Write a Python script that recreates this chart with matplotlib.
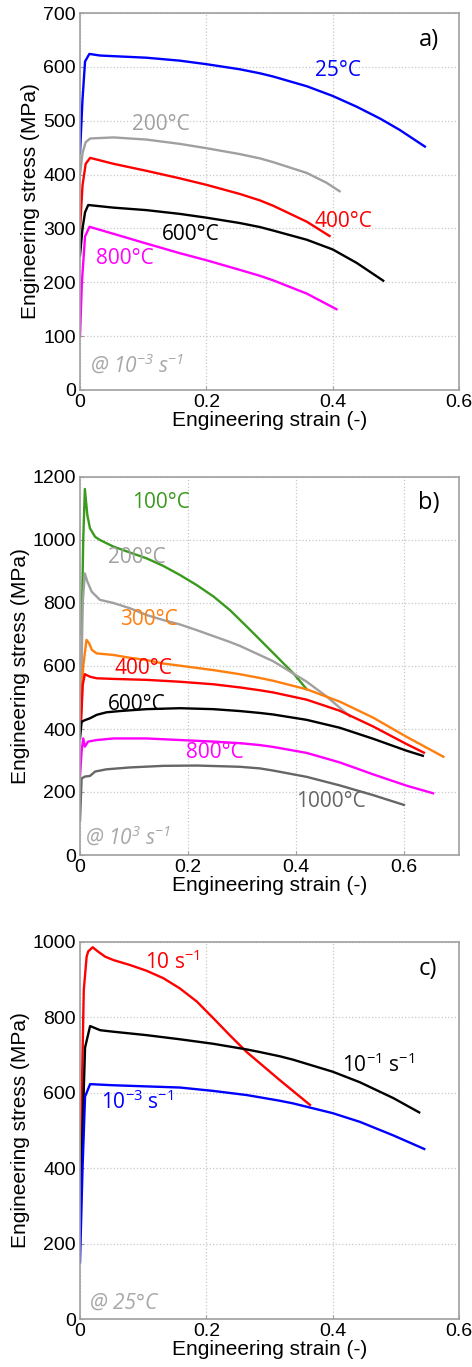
import matplotlib.pyplot as plt

plt.rcParams['font.family'] = ['Liberation Sans', 'DejaVu Sans']
plt.rcParams['font.size'] = 14
plt.rcParams['lines.solid_joinstyle'] = 'round'

# (a) tensile curves at 10^-3 s^-1, strain (-) / stress (MPa)
a_25_x = [0.0, 0.004, 0.008, 0.0148, 0.032, 0.105, 0.158, 0.2, 0.253, 0.285, 0.306, 0.359, 0.4, 0.438, 0.475, 0.506, 0.546]
a_25_y = [440, 540, 610, 624, 621, 617, 611.5, 605, 595.5, 588, 582, 564, 546, 526, 504, 483, 452]
a_200_x = [0.0, 0.004, 0.009, 0.016, 0.053, 0.105, 0.158, 0.2, 0.253, 0.285, 0.306, 0.359, 0.39, 0.411]
a_200_y = [400, 440, 460, 467, 469, 465, 457, 449, 438, 430, 423, 403, 385, 369]
a_400_x = [0.0, 0.004, 0.009, 0.016, 0.053, 0.105, 0.158, 0.2, 0.253, 0.285, 0.306, 0.359, 0.395]
a_400_y = [300, 380, 420, 431, 420, 407, 393, 381, 364, 352, 342, 312.5, 286]
a_600_x = [0.0, 0.004, 0.008, 0.013, 0.053, 0.105, 0.158, 0.2, 0.253, 0.285, 0.306, 0.359, 0.4, 0.438, 0.48]
a_600_y = [250, 300, 330, 343.5, 338.6, 334, 327, 320, 310, 302.5, 296, 279, 261, 236, 203]
a_800_x = [0.0, 0.003, 0.008, 0.015, 0.053, 0.105, 0.158, 0.2, 0.253, 0.285, 0.306, 0.359, 0.406]
a_800_y = [100, 200, 285, 303, 290, 272, 254, 241, 223, 212, 203.5, 179, 150]

# (b) tensile curves at 10^3 s^-1
b_100_x = [0.003, 0.006, 0.009, 0.0136, 0.0185, 0.028, 0.037, 0.062, 0.093, 0.123, 0.154, 0.185, 0.216, 0.247, 0.278, 0.309, 0.333, 0.358, 0.395, 0.42]
b_100_y = [700, 1000, 1162, 1079, 1037, 1010, 1000, 979, 960, 942, 918, 889, 857, 821, 777, 725, 684, 641, 577, 526]
b_200_x = [0.002, 0.005, 0.009, 0.0136, 0.0216, 0.037, 0.062, 0.093, 0.123, 0.154, 0.185, 0.216, 0.247, 0.278, 0.296, 0.358, 0.42, 0.457, 0.5]
b_200_y = [500, 800, 894, 868, 836, 810, 800, 783, 762, 746, 732, 714, 695, 676, 664, 615, 550, 503, 440]
b_300_x = [0.002, 0.006, 0.012, 0.017, 0.022, 0.031, 0.062, 0.093, 0.123, 0.154, 0.185, 0.247, 0.296, 0.333, 0.358, 0.42, 0.481, 0.543, 0.605, 0.673]
b_300_y = [450, 600, 683, 672, 651, 640, 635, 626, 619, 608, 601, 587, 574, 562, 553, 526, 487, 436, 375, 312]
b_400_x = [0.002, 0.005, 0.009, 0.0185, 0.031, 0.062, 0.123, 0.185, 0.247, 0.296, 0.333, 0.358, 0.42, 0.481, 0.543, 0.605, 0.637]
b_400_y = [420, 540, 574, 566, 561, 559, 556, 550, 542, 532, 523, 516, 493, 458, 408, 352, 325]
b_600_x = [0.0, 0.003, 0.009, 0.0185, 0.031, 0.049, 0.074, 0.123, 0.185, 0.247, 0.296, 0.333, 0.358, 0.42, 0.481, 0.543, 0.605, 0.635]
b_600_y = [370, 423, 428, 434, 445, 453, 457, 463, 466, 463, 457, 451, 446, 429, 404, 369, 331, 315]
b_800_x = [0.0, 0.003, 0.006, 0.009, 0.015, 0.031, 0.062, 0.123, 0.185, 0.247, 0.296, 0.333, 0.358, 0.42, 0.481, 0.543, 0.605, 0.654]
b_800_y = [250, 330, 370, 344, 360, 365, 370, 370, 365, 360, 355, 349, 343, 324, 294, 256, 220, 196]
b_1000_x = [0.0, 0.003, 0.009, 0.0185, 0.028, 0.049, 0.093, 0.154, 0.216, 0.278, 0.296, 0.333, 0.358, 0.42, 0.481, 0.543, 0.6]
b_1000_y = [110, 243, 249, 251, 265, 272, 278, 283, 284, 281, 280, 275, 268, 248, 221, 190, 159]

# (c) 25°C at three strain rates
c_10_x = [0.0, 0.004, 0.006, 0.0105, 0.013, 0.02, 0.029, 0.04, 0.053, 0.079, 0.105, 0.132, 0.158, 0.185, 0.211, 0.237, 0.264, 0.29, 0.316, 0.364]
c_10_y = [350, 700, 873, 961, 975, 986, 974, 961, 952, 939, 924, 904, 877, 842, 798, 753, 708, 671, 634, 568]
c_01_x = [0.0, 0.004, 0.008, 0.016, 0.032, 0.053, 0.105, 0.158, 0.211, 0.264, 0.285, 0.316, 0.337, 0.4, 0.443, 0.496, 0.537]
c_01_y = [250, 500, 720, 777, 766, 762, 753, 742, 730, 715, 708, 697, 688, 656, 628, 586, 548]
c_0001_x = [0.0, 0.004, 0.008, 0.016, 0.053, 0.105, 0.158, 0.211, 0.264, 0.285, 0.316, 0.337, 0.4, 0.443, 0.496, 0.545]
c_0001_y = [150, 400, 590, 623, 620, 617, 614, 605, 594, 588, 579, 572, 546, 523, 487, 451]

LBL = ['Open Sans', 'DejaVu Sans']

fig = plt.figure(figsize=(4.72, 13.67), dpi=100)
W = 379 / 472
ax_a = fig.add_axes([80 / 472, 1 - 390 / 1367, W, 377 / 1367])
ax_b = fig.add_axes([80 / 472, 1 - 855 / 1367, W, 378 / 1367])
ax_c = fig.add_axes([80 / 472, 1 - 1319 / 1367, W, 377 / 1367])


def style(ax, xmax, ymax, ystep):
    ax.set_xlim(0, xmax)
    ax.set_ylim(0, ymax)
    ax.set_xticks([0, 0.2, 0.4, 0.6])
    ax.set_xticklabels(['0', '0.2', '0.4', '0.6'])
    ax.set_yticks(range(0, ymax + 1, ystep))
    ax.grid(True, color='#c8c8c8', linestyle=':', linewidth=0.9)
    ax.set_axisbelow(True)
    for s in ax.spines.values():
        s.set_color('#a0a0a0')
        s.set_linewidth(1.2)
    ax.tick_params(direction='in', length=3, color='#a0a0a0', pad=3, labelsize=14)
    ax.set_xlabel('Engineering strain (-)', fontsize=15, labelpad=0)
    ax.set_ylabel('Engineering stress (MPa)', fontsize=15, labelpad=2)


def label(ax, x, y, s, color, size=15, **kw):
    ax.text(x, y, s, color=color, family=LBL, fontsize=size, va='center', **kw)


lw = 1.7
# panel a
ax_a.plot(a_25_x, a_25_y, color='#0000ff', lw=lw)
ax_a.plot(a_200_x, a_200_y, color='#a0a0a0', lw=lw)
ax_a.plot(a_400_x, a_400_y, color='#ff0000', lw=lw)
ax_a.plot(a_600_x, a_600_y, color='black', lw=lw)
ax_a.plot(a_800_x, a_800_y, color='#ff00ff', lw=lw)
style(ax_a, 0.6, 700, 100)
label(ax_a, 0.372, 594, '25°C', '#0000ff')
label(ax_a, 0.083, 493, '200°C', '#a0a0a0')
label(ax_a, 0.371, 312, '400°C', '#ff0000')
label(ax_a, 0.130, 289, '600°C', 'black')
label(ax_a, 0.025, 245, '800°C', '#ff00ff')
label(ax_a, 0.536, 650, 'a)', 'black', size=17)
label(ax_a, 0.016, 45, r'@ 10$\mathregular{^{-3}}$ s$\mathregular{^{-1}}$', '#a8a8a8',
      size=15, fontstyle='italic')

# panel b
ax_b.plot(b_100_x, b_100_y, color='#3a9a1e', lw=lw)
ax_b.plot(b_200_x, b_200_y, color='#a0a0a0', lw=lw)
ax_b.plot(b_300_x, b_300_y, color='#ff7f0e', lw=lw)
ax_b.plot(b_400_x, b_400_y, color='#ff0000', lw=lw)
ax_b.plot(b_600_x, b_600_y, color='black', lw=lw)
ax_b.plot(b_800_x, b_800_y, color='#ff00ff', lw=lw)
ax_b.plot(b_1000_x, b_1000_y, color='#666666', lw=lw)
style(ax_b, 0.702, 1200, 200)
label(ax_b, 0.097, 1118, '100°C', '#3a9a1e')
label(ax_b, 0.052, 943, '200°C', '#a0a0a0')
label(ax_b, 0.074, 747, '300°C', '#ff7f0e')
label(ax_b, 0.063, 593, '400°C', '#ff0000')
label(ax_b, 0.052, 477, '600°C', 'black')
label(ax_b, 0.197, 325, '800°C', '#ff00ff')
label(ax_b, 0.400, 169, '1000°C', '#666666')
label(ax_b, 0.626, 1118, 'b)', 'black', size=17)
label(ax_b, 0.010, 55, r'@ 10$\mathregular{^{3}}$ s$\mathregular{^{-1}}$', '#a8a8a8',
      size=15, fontstyle='italic')

# panel c
ax_c.plot(c_10_x, c_10_y, color='#ff0000', lw=lw)
ax_c.plot(c_01_x, c_01_y, color='black', lw=lw)
ax_c.plot(c_0001_x, c_0001_y, color='#0000ff', lw=lw)
style(ax_c, 0.6, 1000, 200)
label(ax_c, 0.103, 947, r'10 s$\mathregular{^{-1}}$', '#ff0000')
label(ax_c, 0.414, 673, r'10$\mathregular{^{-1}}$ s$\mathregular{^{-1}}$', 'black')
label(ax_c, 0.034, 576, r'10$\mathregular{^{-3}}$ s$\mathregular{^{-1}}$', '#0000ff')
label(ax_c, 0.536, 929, 'c)', 'black', size=17)
label(ax_c, 0.016, 42, '@ 25°C', '#a8a8a8', size=15, fontstyle='italic')

fig.savefig('out.png', dpi=100)
